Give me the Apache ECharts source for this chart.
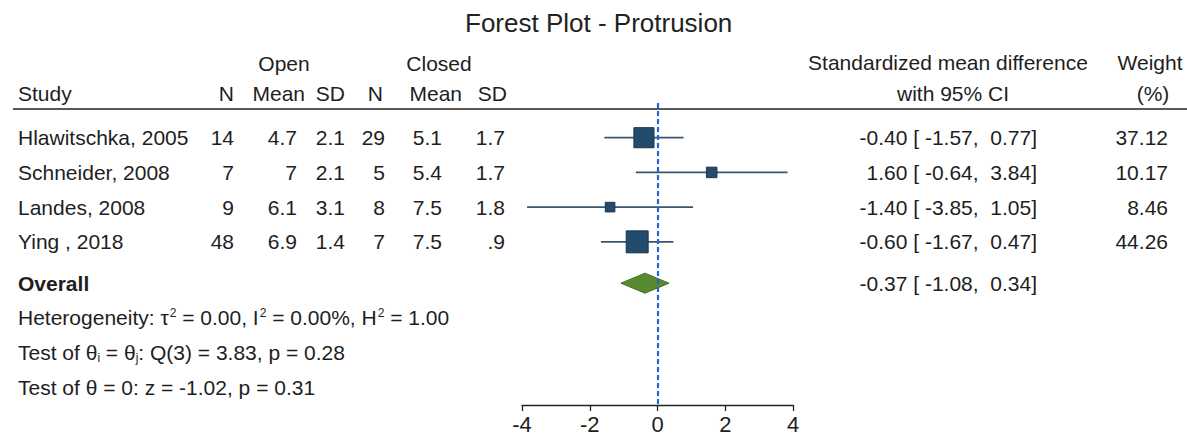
<!DOCTYPE html>
<html><head><meta charset="utf-8">
<script src="https://cdn.jsdelivr.net/npm/echarts@6/dist/echarts.min.js"></script>
<style>html,body{margin:0;padding:0;background:#fff}#c{width:1187px;height:435px}</style>
</head><body><div id="c"></div>
<script>
// ---- data ----
const studies = ["Hlawitschka, 2005", "Schneider, 2008", "Landes, 2008", "Ying , 2018"];
const openN = ["14", "7", "9", "48"];
const openMean = ["4.7", "7", "6.1", "6.9"];
const openSD = ["2.1", "2.1", "3.1", "1.4"];
const closedN = ["29", "5", "8", "7"];
const closedMean = ["5.1", "5.4", "7.5", "7.5"];
const closedSD = ["1.7", "1.7", "1.8", ".9"];
const smd = [-0.40, 1.60, -1.40, -0.60];
const ciLow = [-1.57, -0.64, -3.85, -1.67];
const ciHigh = [0.77, 3.84, 1.05, 0.47];
const weight = [37.12, 10.17, 8.46, 44.26];
const overallSmd = -0.37;
const overallLow = -1.08;
const overallHigh = 0.34;
const statsLines = [
  "Heterogeneity: \u03c4{sup|2} = 0.00, I{sup|2} = 0.00%, H{sup|2} = 1.00",
  "Test of \u03b8{sub|i} = \u03b8{sub|j}: Q(3) = 3.83, p = 0.28",
  "Test of \u03b8 = 0: z = -1.02, p = 0.31"
];
const xTicks = [-4, -2, 0, 2, 4];

// ---- layout / style ----
const FONT = '"Liberation Sans", Arial, Helvetica, sans-serif';
const TXT = '#1e1e1e';
const FS = 21;
const OVERALL_ROW = 4.19;
const STATS_ROW0 = 5.19;
const STATS_STEP = 1.01;
const STUDY_X = 18;
const COLS = [
  {arr: openN, x: 234}, {arr: openMean, x: 297}, {arr: openSD, x: 345},
  {arr: closedN, x: 385}, {arr: closedMean, x: 442}, {arr: closedSD, x: 505}
];
const EFFECT_X = 1037, WEIGHT_X = 1168;
const NB = '\u00a0';

function effectStr(e, lo, hi) {
  return e.toFixed(2) + NB + '[' + NB + lo.toFixed(2) + ',' + NB + (hi >= 0 ? NB : '') + hi.toFixed(2) + ']';
}
function txt(x, y, text, align, extra) {
  return Object.assign({
    type: 'text', x: x, y: y,
    style: Object.assign({text: text, fill: TXT, fontSize: FS, fontFamily: FONT,
      align: align || 'left', verticalAlign: 'middle'}, extra || {})
  });
}

const chart = echarts.init(document.getElementById('c'), null, {renderer: 'svg'});

const option = {
  animation: false,
  backgroundColor: '#fff',
  title: {
    text: 'Forest Plot - Protrusion', left: 460, top: 5,
    textStyle: {fontSize: 26, fontWeight: 'normal', color: '#222', fontFamily: FONT}
  },
  grid: {left: 522, right: 394, top: 103, bottom: 30, containLabel: false},
  xAxis: {
    type: 'value', min: -4, max: 4, interval: 2,
    axisLine: {show: true, onZero: false, lineStyle: {color: '#222', width: 1.3}},
    axisTick: {show: true, inside: false, length: 6, lineStyle: {color: '#222', width: 1.3}},
    axisLabel: {fontSize: 22, color: TXT, fontFamily: FONT, margin: 8,
      customValues: xTicks, formatter: v => String(v)},
    splitLine: {show: false}
  },
  yAxis: {type: 'value', inverse: true, min: -1, max: 7.7, show: false},
  graphic: [
    {type: 'line', shape: {x1: 13, y1: 109, x2: 1187, y2: 109}, style: {stroke: '#222', lineWidth: 1.5}},
    txt(284, 63, 'Open', 'center'),
    txt(439, 63, 'Closed', 'center'),
    txt(STUDY_X, 93, 'Study', 'left'),
    txt(234, 93, 'N', 'right'),
    txt(305, 93, 'Mean', 'right'),
    txt(345, 93, 'SD', 'right'),
    txt(383, 93, 'N', 'right'),
    txt(462, 93, 'Mean', 'right'),
    txt(507, 93, 'SD', 'right'),
    txt(948, 62, 'Standardized mean difference', 'center'),
    txt(953, 93, 'with 95% CI', 'center'),
    txt(1150, 62, 'Weight', 'center'),
    txt(1153, 93, '(%)', 'center')
  ],
  series: [
    {
      // table text for studies
      type: 'custom', coordinateSystem: 'cartesian2d', clip: false, silent: true,
      data: studies.map((s, i) => [0, i]),
      encode: {x: 0, y: 1},
      renderItem: function (params, api) {
        const i = params.dataIndex;
        const y = api.coord([0, api.value(1)])[1];
        const ch = [txt(STUDY_X, y, studies[i], 'left')];
        COLS.forEach(c => ch.push(txt(c.x, y, c.arr[i], 'right')));
        ch.push(txt(EFFECT_X, y, effectStr(smd[i], ciLow[i], ciHigh[i]), 'right'));
        ch.push(txt(WEIGHT_X, y, weight[i].toFixed(2), 'right'));
        return {type: 'group', children: ch};
      }
    },
    {
      // CI lines and weighted squares
      type: 'custom', coordinateSystem: 'cartesian2d', clip: false, silent: true, z: 3,
      data: studies.map((s, i) => [smd[i], i, ciLow[i], ciHigh[i], weight[i]]),
      encode: {x: 0, y: 1},
      renderItem: function (params, api) {
        const r = api.value(1);
        const c = api.coord([api.value(0), r]);
        const lo = api.coord([api.value(2), r]);
        const hi = api.coord([api.value(3), r]);
        const s = 3.3 * Math.sqrt(api.value(4));
        return {type: 'group', children: [
          {type: 'line', shape: {x1: lo[0], y1: lo[1], x2: hi[0], y2: hi[1]},
            style: {stroke: '#3a566e', lineWidth: 1.8}},
          {type: 'rect', shape: {x: c[0] - s / 2, y: c[1] - s / 2, width: s, height: s},
            style: {fill: '#234b6e', stroke: '#18354f', lineWidth: 1}}
        ]};
      }
    },
    {
      // overall diamond + text
      type: 'custom', coordinateSystem: 'cartesian2d', clip: false, silent: true, z: 3,
      data: [[overallSmd, OVERALL_ROW, overallLow, overallHigh]],
      encode: {x: 0, y: 1},
      renderItem: function (params, api) {
        const r = api.value(1);
        const c = api.coord([api.value(0), r]);
        const lo = api.coord([api.value(2), r]);
        const hi = api.coord([api.value(3), r]);
        const h = 10;
        return {type: 'group', children: [
          {type: 'polygon', shape: {points: [[lo[0], lo[1]], [c[0], c[1] - h], [hi[0], hi[1]], [c[0], c[1] + h]]},
            style: {fill: '#5a8a2f', stroke: '#44701f', lineWidth: 1}},
          txt(STUDY_X, c[1], 'Overall', 'left', {fontWeight: 'bold'}),
          txt(EFFECT_X, c[1], effectStr(overallSmd, overallLow, overallHigh), 'right')
        ]};
      }
    },
    {
      // heterogeneity / test lines
      type: 'custom', coordinateSystem: 'cartesian2d', clip: false, silent: true,
      data: statsLines.map((s, i) => [0, STATS_ROW0 + i * STATS_STEP]),
      encode: {x: 0, y: 1},
      renderItem: function (params, api) {
        const y = api.coord([0, api.value(1)])[1];
        return txt(STUDY_X, y, statsLines[params.dataIndex], 'left', {
          rich: {
            sup: {fontSize: 12, fontFamily: FONT, fill: TXT, verticalAlign: 'top', lineHeight: 22, padding: [0, 0, 0, 1]},
            sub: {fontSize: 12, fontFamily: FONT, fill: TXT, verticalAlign: 'bottom', lineHeight: 22, padding: [8, 0, 0, 0]}
          }
        });
      }
    },
    {
      // reference line at 0
      type: 'line', data: [], z: 10, silent: true,
      markLine: {
        silent: true, symbol: ['none', 'none'], label: {show: false},
        lineStyle: {color: '#2464d0', type: [5, 3], width: 2.2},
        data: [{xAxis: 0}]
      }
    }
  ]
};
chart.setOption(option);
</script>
</body></html>
